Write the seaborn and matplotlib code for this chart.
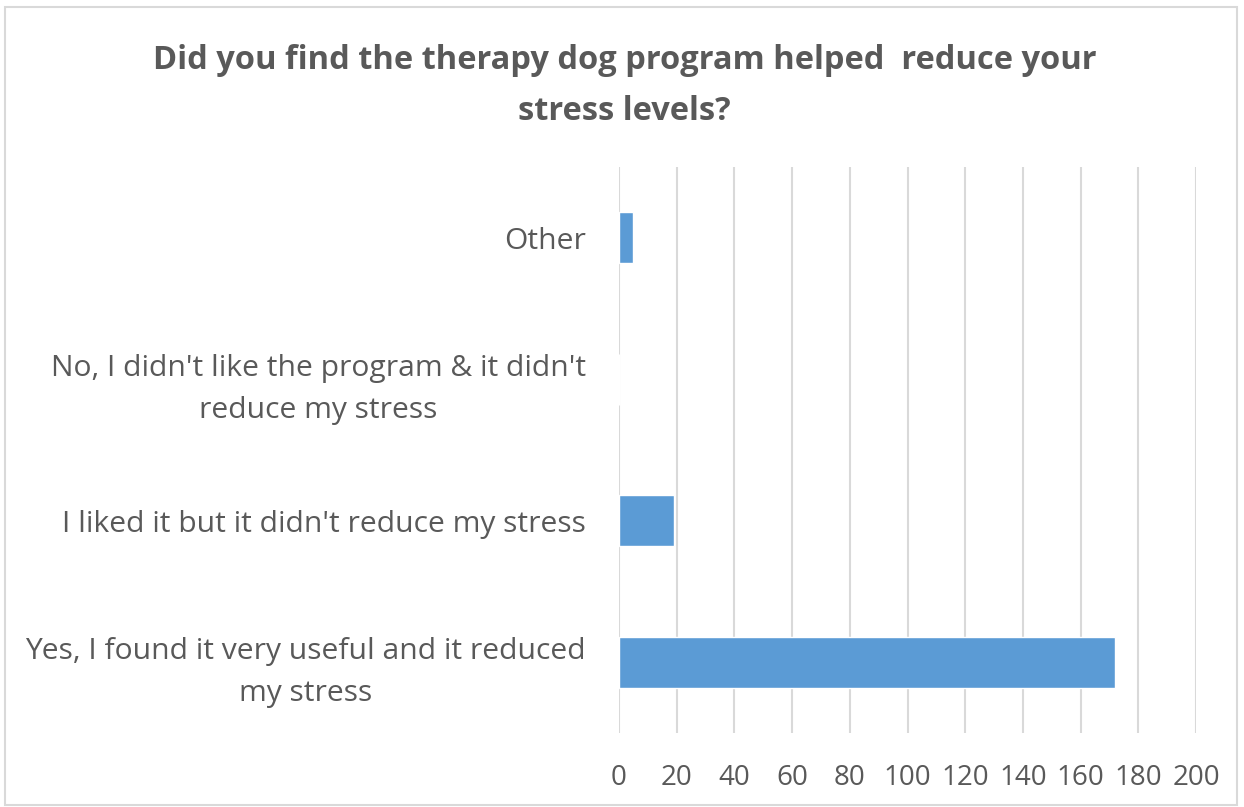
import matplotlib
matplotlib.use("Agg")
import matplotlib.pyplot as plt
import seaborn as sns
import pandas as pd
from matplotlib.patches import Rectangle

# Datos de la encuesta
categories = [
    "Other",
    "No, I didn't like the program & it didn't\nreduce my stress",
    "I liked it but it didn't reduce my stress",
    "Yes, I found it very useful and it reduced\nmy stress",
]
counts = [5, 0, 19, 172]
x_ticks = [0, 20, 40, 60, 80, 100, 120, 140, 160, 180, 200]

df = pd.DataFrame({"category": categories, "count": counts})

sns.set_theme(style="white")
plt.rcParams["font.family"] = ["Open Sans", "DejaVu Sans"]

fig = plt.figure(figsize=(12.44, 8.07), dpi=100)
ax = fig.add_axes([619 / 1244, 1 - 733 / 807, 577 / 1244, 566 / 807])

sns.barplot(data=df, y="category", x="count", color="#5b9bd5", saturation=1,
            width=0.36, orient="h", ax=ax, zorder=3)

ax.set_xlim(0, 200)
ax.set_xticks(x_ticks)
ax.set_xticklabels([str(t) for t in x_ticks])
ax.grid(axis="x", color="#d9d9d9", linewidth=1.5, zorder=0)
ax.set_axisbelow(True)
for s in ax.spines.values():
    s.set_visible(False)

ax.set_xlabel("")
ax.set_ylabel("")
ax.tick_params(axis="x", length=0, pad=22, labelsize=20, labelcolor="#595959")
ax.tick_params(axis="y", length=0, pad=24, labelsize=21.6, labelcolor="#595959")
for lbl in ax.get_yticklabels():
    lbl.set_multialignment("center")
    lbl.set_linespacing(1.6)

fig.text(0.502, 1 - 86 / 807, "Did you find the therapy dog program helped  reduce your\nstress levels?",
         ha="center", va="center", fontsize=23.5, fontweight="bold", color="#595959",
         linespacing=1.75)

# Marco gris alrededor del gráfico
fig.patches.append(Rectangle((5 / 1244, 2 / 807), 1232 / 1244, 798 / 807,
                             transform=fig.transFigure, fill=False,
                             edgecolor="#d9d9d9", linewidth=1.5))

fig.savefig("out.png", dpi=100)
